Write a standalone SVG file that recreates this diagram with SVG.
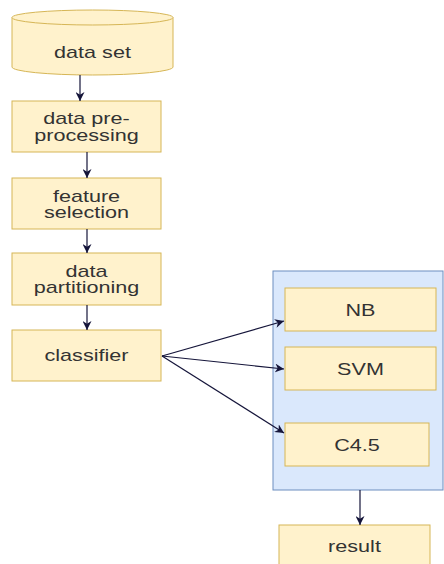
<svg xmlns="http://www.w3.org/2000/svg" width="444" height="564" viewBox="0 0 444 564">
<style>
.y{fill:#fff2cc;stroke:#d6b656;stroke-width:1}
.b{fill:#dae8fc;stroke:#6c8ebf;stroke-width:1}
.t{font-family:"Liberation Sans",Arial,sans-serif;font-size:16px;fill:#333333;text-anchor:middle}
.c{fill:none;stroke:#15153a;stroke-width:1.2}
</style>
<defs>
<marker id="ah" viewBox="0 0 10 10" refX="10" refY="5" markerWidth="9" markerHeight="9" markerUnits="userSpaceOnUse" orient="auto">
<path d="M0,0 L10,5 L0,10 L3,5 Z" fill="#15153a"/>
</marker>
</defs>
<rect x="0" y="0" width="444" height="564" fill="#ffffff"/>
<g id="container">
<rect class="b" x="273" y="271" width="170" height="219"/>
</g>
<g id="dataset">
<path class="y" d="M12,17.5 L12,67 A80.5,8 0 0 0 173,67 L173,17.5 A80.5,7.5 0 0 0 12,17.5 Z"/>
<path class="y" d="M12,17.5 A80.5,7.5 0 0 0 173,17.5" fill="none"/>
<text class="t" transform="translate(92.5,57.5) scale(1.35,1)">data set</text>
</g>
<g id="preprocessing">
<rect class="y" x="12" y="101" width="149" height="51"/>
<text class="t" transform="translate(86.5,124) scale(1.35,1)">data pre-</text>
<text class="t" transform="translate(86.5,140.5) scale(1.35,1)">processing</text>
</g>
<g id="featureselection">
<rect class="y" x="12" y="178" width="149" height="51"/>
<text class="t" transform="translate(86.5,202) scale(1.35,1)">feature</text>
<text class="t" transform="translate(86.5,218) scale(1.35,1)">selection</text>
</g>
<g id="partitioning">
<rect class="y" x="12" y="253" width="149" height="52"/>
<text class="t" transform="translate(86.5,276.5) scale(1.35,1)">data</text>
<text class="t" transform="translate(86.5,292.5) scale(1.35,1)">partitioning</text>
</g>
<g id="classifier">
<rect class="y" x="12" y="330" width="149" height="51"/>
<text class="t" transform="translate(86.5,361) scale(1.35,1)">classifier</text>
</g>
<g id="nb">
<rect class="y" x="285" y="288" width="151" height="43"/>
<text class="t" transform="translate(360.5,316) scale(1.35,1)">NB</text>
</g>
<g id="svm">
<rect class="y" x="285" y="347" width="151" height="43"/>
<text class="t" transform="translate(360.5,375) scale(1.35,1)">SVM</text>
</g>
<g id="c45">
<rect class="y" x="285" y="423" width="144" height="43"/>
<text class="t" transform="translate(357,451) scale(1.35,1)">C4.5</text>
</g>
<g id="result">
<rect class="y" x="279" y="525" width="151" height="50"/>
<text class="t" transform="translate(354.5,552) scale(1.35,1)">result</text>
</g>
<g id="connectors">
<line class="c" x1="80" y1="75" x2="80" y2="101" marker-end="url(#ah)"/>
<line class="c" x1="87" y1="152" x2="87" y2="178" marker-end="url(#ah)"/>
<line class="c" x1="87" y1="229" x2="87" y2="253" marker-end="url(#ah)"/>
<line class="c" x1="87" y1="305" x2="87" y2="330" marker-end="url(#ah)"/>
<line class="c" x1="162" y1="356" x2="284" y2="321" marker-end="url(#ah)"/>
<line class="c" x1="162" y1="356" x2="284" y2="369" marker-end="url(#ah)"/>
<line class="c" x1="162" y1="356" x2="284" y2="433" marker-end="url(#ah)"/>
<line class="c" x1="360" y1="490" x2="360" y2="525" marker-end="url(#ah)"/>
</g>
</svg>
